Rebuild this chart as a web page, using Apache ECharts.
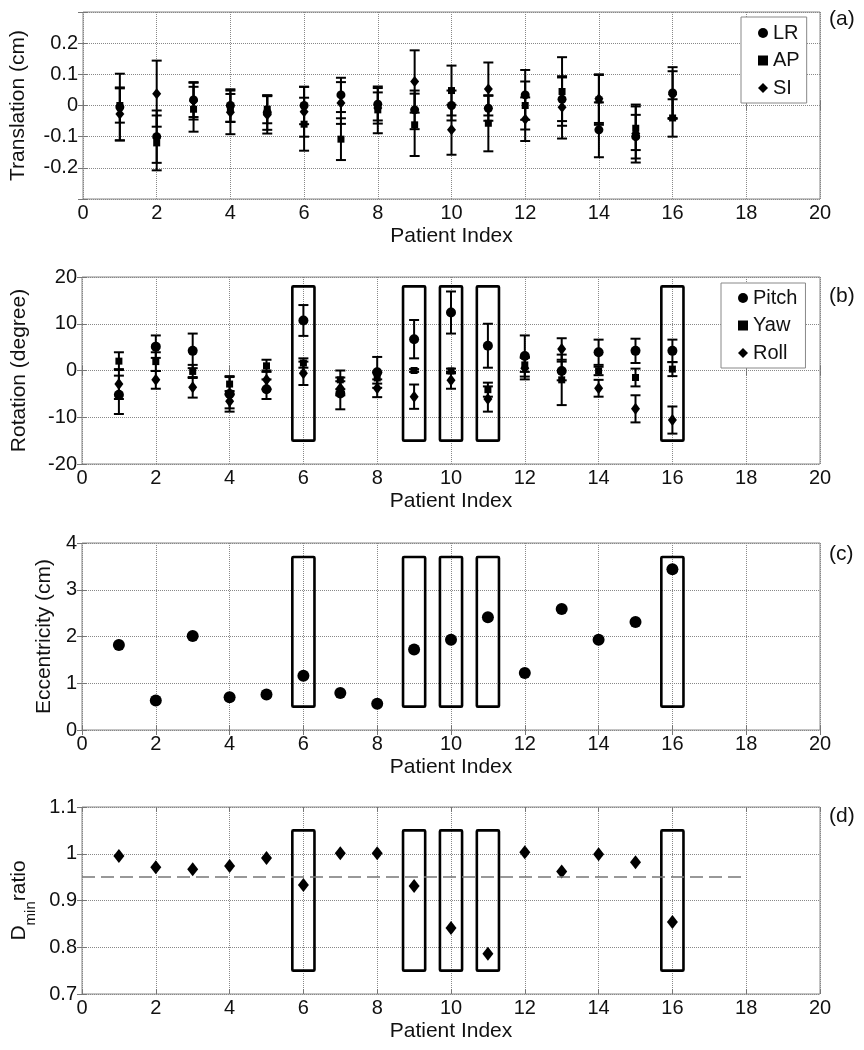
<!DOCTYPE html>
<html><head><meta charset="utf-8">
<script src="https://cdn.jsdelivr.net/npm/echarts@6/dist/echarts.min.js"></script>
<style>html,body{margin:0;padding:0;background:#fff}#c{width:864px;height:1050px}</style>
</head><body><div id="c"></div>
<script>
// ---------- DATA ----------
const patients = [1,2,3,4,5,6,7,8,9,10,11,12,13,14,15,16];
// (a) Translation (cm): mean and SD per patient
const lrMean = [-0.005,-0.100,0.018,0.000,-0.023,0.000,0.034,0.004,-0.014,0.000,-0.009,0.034,0.020,-0.078,-0.100,0.040];
const lrSd   = [0.107,0.084,0.055,0.052,0.055,0.060,0.055,0.052,0.062,0.048,0.040,0.080,0.070,0.088,0.070,0.083];
const apMean = [0.000,-0.120,-0.012,-0.008,-0.012,-0.060,-0.108,-0.014,-0.062,0.048,-0.057,0.000,0.045,0.018,-0.073,-0.040];
const apSd   = [0.055,0.088,0.072,0.045,0.045,0.085,0.067,0.075,0.100,0.080,0.090,0.077,0.110,0.080,0.070,0.060];
const siMean = [-0.027,0.038,0.015,-0.022,-0.030,-0.020,0.008,-0.008,0.077,-0.078,0.053,-0.044,-0.006,0.022,-0.090,0.035];
const siSd   = [0.085,0.106,0.060,0.070,0.060,0.080,0.067,0.050,0.100,0.080,0.085,0.070,0.100,0.078,0.093,0.075];
// (b) Rotation (degree): mean and SD per patient
const pitchMean = [-5.2,5.1,4.2,-5.0,-4.0,10.7,-4.9,-0.4,6.7,12.4,5.3,3.1,-0.1,3.9,4.2,4.2];
const pitchSd   = [4.1,2.4,3.7,3.8,2.1,3.3,3.4,3.3,4.1,4.5,4.7,4.4,2.0,2.7,2.6,2.4];
const yawMean   = [2.0,1.9,-0.2,-2.9,1.0,1.6,-2.0,-1.6,0.0,-0.1,-4.1,1.2,-2.0,-0.1,-1.5,0.3];
const yawSd     = [1.9,2.0,1.4,1.5,1.3,1.0,2.0,1.2,0.3,0.5,1.5,1.5,5.4,0.9,1.9,1.5];
const rollMean  = [-2.9,-2.0,-3.6,-6.6,-2.0,-0.6,-3.8,-3.8,-5.6,-2.1,-6.1,0.5,4.6,-3.8,-8.2,-10.6];
const rollSd    = [3.2,1.9,2.2,1.5,2.0,2.5,1.5,1.9,2.6,1.8,2.7,2.4,2.3,1.8,2.9,2.9];
// (c) Eccentricity (cm)
const eccentricity = [1.82,0.63,2.01,0.70,0.76,1.16,0.79,0.56,1.72,1.93,2.41,1.22,2.59,1.93,2.31,3.44];
// (d) Dmin ratio
const dminRatio = [0.995,0.971,0.967,0.974,0.991,0.933,1.001,1.001,0.931,0.841,0.786,1.003,0.962,0.999,0.982,0.854];
// Highlighted patients and box ranges
const boxedPatients = [6,9,10,11,16];
const rotBox = [-15, 18];
const eccBox = [0.5, 3.7];
const dminBox = [0.75, 1.05];
const dminThreshold = 0.95;
const thresholdEndX = 18;
// Axis ranges
const xRange = [0, 20, 2];
const transRange = [-0.3, 0.3, 0.1];
const rotRange = [-20, 20, 10];
const eccRange = [0, 4, 1];
const dminRange = [0.7, 1.1, 0.1];

// ---------- CHART ----------
const FF = 'Liberation Sans, Arial, sans-serif';
const gridTops = [12, 277, 543, 807];
const GH = 187;
const grids = gridTops.map(t => ({left: 82, width: 738, top: t, height: GH, show: true, borderColor: '#888', borderWidth: 1, backgroundColor: 'transparent'}));

function fmt(v){ return String(parseFloat(v.toFixed(2))); }

const xAxes = [], yAxes = [];
function addAxes(i, yr, yName, yNameGap, yLabelFilter, yNameRich){
  xAxes.push({gridIndex:i, type:'value', min:xRange[0], max:xRange[1], interval:xRange[2],
    axisLine:{show:false}, axisTick:{show:true, inside:true, length:5, lineStyle:{color:'#777'}},
    axisLabel:{margin:4, fontSize:20, color:'#111', fontFamily:FF},
    splitLine:{show:true, lineStyle:{type:'dotted', color:'#888', width:1}},
    name:'Patient Index', nameLocation:'middle', nameGap:27,
    nameTextStyle:{fontSize:21, color:'#111', fontFamily:FF}});
  xAxes.push({gridIndex:i, type:'value', position:'top', min:xRange[0], max:xRange[1], interval:xRange[2],
    axisLine:{show:false}, axisTick:{show:true, inside:true, length:5, lineStyle:{color:'#777'}},
    axisLabel:{show:false}, splitLine:{show:false}});
  const ya = {gridIndex:i, type:'value', min:yr[0], max:yr[1], interval:yr[2],
    axisLine:{show:false}, axisTick:{show:true, inside:true, length:5, lineStyle:{color:'#777'}},
    axisLabel:{margin:5, fontSize:20, color:'#111', fontFamily:FF,
      formatter: v => (yLabelFilter && !yLabelFilter(v)) ? '' : fmt(v)},
    splitLine:{show:true, lineStyle:{type:'dotted', color:'#888', width:1}},
    name:yName, nameLocation:'middle', nameGap:yNameGap,
    nameTextStyle:{fontSize:21, color:'#111', fontFamily:FF}};
  if (yNameRich) ya.nameTextStyle.rich = yNameRich;
  yAxes.push(ya);
  yAxes.push({gridIndex:i, type:'value', position:'right', min:yr[0], max:yr[1], interval:yr[2],
    axisLine:{show:false}, axisTick:{show:true, inside:true, length:5, lineStyle:{color:'#777'}},
    axisLabel:{show:false}, splitLine:{show:false}});
}
addAxes(0, transRange, 'Translation (cm)', 54, v => Math.abs(Math.abs(v) - 0.3) > 1e-6);
addAxes(1, rotRange, 'Rotation (degree)', 52);
addAxes(2, eccRange, 'Eccentricity (cm)', 24);
addAxes(3, dminRange, '{d|D}{s|min}{d|ratio}', 40, null, {
  d:{fontSize:21, fontFamily:FF, color:'#111', verticalAlign:'top', lineHeight:30},
  s:{fontSize:15, fontFamily:FF, color:'#111', verticalAlign:'bottom', lineHeight:30}
});

function errRender(params, api){
  const x = api.value(0), lo = api.value(1), hi = api.value(2);
  const pl = api.coord([x, lo]), ph = api.coord([x, hi]);
  const hw = 5;
  const st = {stroke:'#000', lineWidth:2};
  return {type:'group', children:[
    {type:'line', shape:{x1:pl[0], y1:pl[1], x2:ph[0], y2:ph[1]}, style:st},
    {type:'line', shape:{x1:pl[0]-hw, y1:pl[1], x2:pl[0]+hw, y2:pl[1]}, style:st},
    {type:'line', shape:{x1:ph[0]-hw, y1:ph[1], x2:ph[0]+hw, y2:ph[1]}, style:st}
  ]};
}
function boxRender(params, api){
  const x = api.value(0), lo = api.value(1), hi = api.value(2);
  const p1 = api.coord([x - 0.3, hi]), p2 = api.coord([x + 0.3, lo]);
  return {type:'rect', shape:{x:p1[0], y:p1[1], width:p2[0]-p1[0], height:p2[1]-p1[1], r:1},
    style:{fill:'none', stroke:'#000', lineWidth:2.6}};
}
function errSeries(gi, mean, sd){
  return {type:'custom', xAxisIndex:gi*2, yAxisIndex:gi*2, renderItem:errRender, silent:true, z:2,
    encode:{x:0, y:[1,2]}, data: patients.map((p, k) => [p, mean[k] - sd[k], mean[k] + sd[k]])};
}
function ptSeries(gi, name, vals, symbol, size){
  return {type:'scatter', name:name, xAxisIndex:gi*2, yAxisIndex:gi*2, symbol:symbol, symbolSize:size, z:4,
    itemStyle:{color:'#000', opacity:1}, data: patients.map((p, k) => [p, vals[k]])};
}
function boxSeries(gi, range){
  return {type:'custom', xAxisIndex:gi*2, yAxisIndex:gi*2, renderItem:boxRender, silent:true, z:3,
    encode:{x:0, y:[1,2]}, data: boxedPatients.map(p => [p, range[0], range[1]])};
}

const series = [
  errSeries(0, lrMean, lrSd), errSeries(0, apMean, apSd), errSeries(0, siMean, siSd),
  ptSeries(0, 'LR', lrMean, 'circle', 9), ptSeries(0, 'AP', apMean, 'rect', 7), ptSeries(0, 'SI', siMean, 'diamond', [9,11]),
  errSeries(1, pitchMean, pitchSd), errSeries(1, yawMean, yawSd), errSeries(1, rollMean, rollSd),
  ptSeries(1, 'Pitch', pitchMean, 'circle', 10), ptSeries(1, 'Yaw', yawMean, 'rect', 7), ptSeries(1, 'Roll', rollMean, 'diamond', [9,12]),
  boxSeries(1, rotBox),
  ptSeries(2, 'Eccentricity', eccentricity, 'circle', 12),
  boxSeries(2, eccBox),
  Object.assign(ptSeries(3, 'Dmin', dminRatio, 'diamond', [11,14]), {
    markLine:{silent:true, symbol:['none','none'], label:{show:false},
      lineStyle:{type:[13,6], color:'#777', width:1.6},
      data:[[{coord:[xRange[0], dminThreshold]}, {coord:[thresholdEndX, dminThreshold]}]]}
  }),
  boxSeries(3, dminBox)
];

const legendBase = {orient:'vertical', selectedMode:false, backgroundColor:'#fff', borderColor:'#888', borderWidth:1,
  itemWidth:10, itemHeight:10, itemTextGap:14, itemGap:7.5,
  textStyle:{fontSize:20, lineHeight:20, color:'#111', fontFamily:FF}};
const legends = [
  Object.assign({}, legendBase, {left:741, top:17, padding:[6,7,5,17],
    data:[{name:'LR', icon:'circle'}, {name:'AP', icon:'rect'}, {name:'SI', icon:'diamond'}]}),
  Object.assign({}, legendBase, {left:721, top:283, padding:[5,8,5,17],
    data:[{name:'Pitch', icon:'circle'}, {name:'Yaw', icon:'rect'}, {name:'Roll', icon:'diamond'}]})
];

const panelLabels = ['(a)', '(b)', '(c)', '(d)'];
const labelTops = [9, 286, 544, 806];
const graphic = panelLabels.map((t, i) => ({type:'text', left:829, top:labelTops[i],
  style:{text:t, font:'21px ' + FF, fill:'#111'}}));

const chart = echarts.init(document.getElementById('c'));
chart.setOption({animation:false, backgroundColor:'#fff', grid:grids, xAxis:xAxes, yAxis:yAxes,
  series:series, legend:legends, graphic:graphic});
</script></body></html>
